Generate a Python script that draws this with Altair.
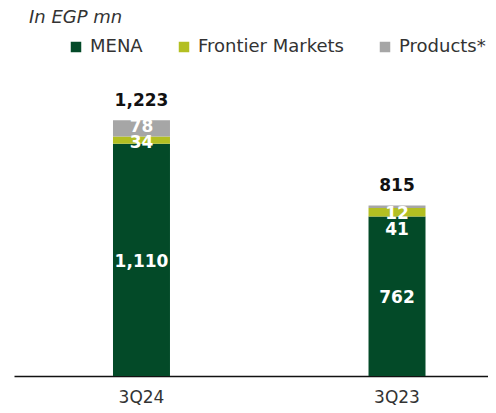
import altair as alt
import pandas as pd

quarters = ["3Q24", "3Q23"]
segments = ["MENA", "Frontier Markets", "Products*"]
mena = [1110, 762]
frontier = [34, 41]
products = [78, 12]
totals = [1223, 815]
colors = ["#034A28", "#B3BF22", "#A6A6A6"]

rows = []
for i, q in enumerate(quarters):
    for j, (s, v) in enumerate(zip(segments, [mena[i], frontier[i], products[i]])):
        rows.append({"quarter": q, "segment": s, "value": v, "order": j})
df = pd.DataFrame(rows)
tot = pd.DataFrame({"quarter": quarters, "total": totals})

FONT = "DejaVu Sans"

x = alt.X("quarter:N", sort=quarters, title=None,
          scale=alt.Scale(paddingInner=0.777, paddingOuter=0.316, align=0.613))
yscale = alt.Scale(domain=[0, 1400])

bars = alt.Chart(df).mark_bar().encode(
    x=x,
    y=alt.Y("value:Q", stack="zero", scale=yscale, axis=None),
    color=alt.Color("segment:N", sort=segments,
                    scale=alt.Scale(domain=segments, range=colors),
                    legend=alt.Legend(title=None, orient="none", legendX=53, legendY=-45,
                                      direction="horizontal", columns=3,
                                      symbolType="square", symbolSize=110,
                                      symbolStrokeWidth=0, labelFont=FONT,
                                      labelFontSize=18, labelColor="#333333",
                                      labelOffset=5, columnPadding=32,
                                      labelLimit=300)),
    order=alt.Order("order:Q"),
)

stacked = alt.Chart(df).transform_stack(
    stack="value", groupby=["quarter"], as_=["y0", "y1"],
    sort=[alt.SortField("order", "ascending")]
).transform_calculate(
    mid="(datum.y0 + datum.y1) / 2",
    lbl="format(datum.value, ',')",
)

# small pixel nudges for the label of each (quarter, segment order)
nudges = [("3Q24", 0, 2), ("3Q24", 1, 3), ("3Q24", 2, -1),
          ("3Q23", 0, 2), ("3Q23", 1, 18), ("3Q23", 2, 7)]
seglayers = []
for q, o, d in nudges:
    seglayers.append(
        stacked.transform_filter(
            f"datum.quarter == '{q}' && datum.order == {o}"
        ).mark_text(font=FONT, fontSize=17, fontWeight="bold", color="white",
                    baseline="middle", dy=d).encode(
            x=x,
            y=alt.Y("mid:Q", scale=yscale, axis=None),
            text="lbl:N",
        )
    )

totlabels = alt.Chart(tot).transform_calculate(
    lbl="format(datum.total, ',')"
).mark_text(font=FONT, fontSize=17, fontWeight="bold", color="#111111",
            baseline="middle", dy=-19).encode(
    x=x,
    y=alt.Y("total:Q", scale=yscale, axis=None),
    text="lbl:N",
)

chart = alt.layer(bars, *seglayers, totlabels).properties(
    width=474, height=293,
    title=alt.TitleParams("In EGP mn", anchor="start", font=FONT, fontSize=18,
                          fontStyle="italic", fontWeight="normal", color="#333333",
                          dx=15, offset=11),
    autosize=alt.AutoSizeParams(type="none"),
    padding={"left": 6, "top": 75, "right": 0, "bottom": 30},
).configure_view(stroke=None).configure_axisX(
    labelFont=FONT, labelFontSize=17, labelColor="#333333", labelPadding=13,
    ticks=False, domainColor="#111111", domainWidth=1.5, labelAngle=0,
    grid=False, title=None,
)

chart.save("out.html", embed_options={"renderer": "svg", "actions": False})
